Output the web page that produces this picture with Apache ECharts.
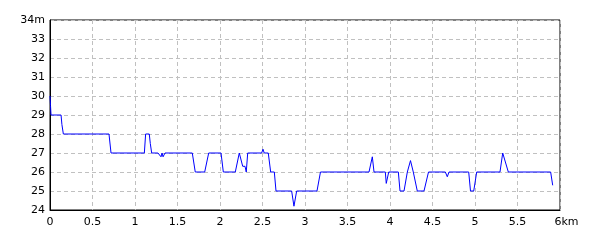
<!DOCTYPE html>
<html><head><meta charset="utf-8">
<script src="https://cdn.jsdelivr.net/npm/echarts@6/dist/echarts.min.js"></script>
<style>html,body{margin:0;padding:0;background:#fff}#c{width:600px;height:240px}</style>
</head><body><div id="c"></div>
<script>
const distanceKm = [0,0.006,0.012,0.13,0.14,0.157,0.694,0.718,1.11,1.125,1.168,1.18,1.196,1.27,1.306,1.318,1.33,1.353,
1.674,1.709,1.82,1.867,2.012,2.039,2.18,2.227,2.267,2.294,2.309,2.326,2.49,2.506,2.52,2.568,2.596,2.639,2.659,2.843,2.87,2.902,
3.141,3.182,3.753,3.792,3.812,3.945,3.956,3.985,4.098,4.118,4.165,4.204,4.241,4.274,4.321,4.4,4.453,4.651,4.674,4.694,4.926,4.947,4.985,5.02,
5.294,5.326,5.345,5.392,5.89,5.914];
const elevationM = [30,29.5,29,29,28.5,28,28,27,27,28,28,27.5,27,27,26.8,27,26.8,27,
27,26,26,27,27,26,26,27,26.3,26.3,26,27,27,27.2,27,27,26,26,25,25,24.2,25,
25,26,26,26.8,26,26,25.4,26,26,25,25,26,26.6,26,25,25,26,26,25.75,26,26,25,25,26,
26,27,27,26,26,25.3];
const xTicks = [0,0.5,1,1.5,2,2.5,3,3.5,4,4.5,5,5.5,6];
const yTicks = [24,25,26,27,28,29,30,31,32,33,34];

const chart = echarts.init(document.getElementById('c'), null, {renderer:'canvas'});
const font = {fontFamily:'DejaVu Sans', fontSize:11, color:'#000'};
chart.setOption({
  animation:false,
  grid:{left:50, top:20, right:40, bottom:30, show:true, borderColor:'#000', borderWidth:1, backgroundColor:'#fff'},
  xAxis:{type:'value', min:xTicks[0], max:xTicks[xTicks.length-1], interval:0.5,
    axisLine:{show:true, lineStyle:{color:'#000'}}, axisTick:{show:false},
    splitLine:{show:true, lineStyle:{color:'#c0c0c0', type:[4,3]}},
    axisLabel:Object.assign({margin:7, formatter:v=> v===6 ? '{u|6km}' : String(v),
      rich:{u:Object.assign({padding:[0,0,0,13]},font)}}, font)},
  yAxis:{type:'value', min:yTicks[0], max:yTicks[yTicks.length-1], interval:1,
    axisLine:{show:true, lineStyle:{color:'#000'}}, axisTick:{show:false},
    splitLine:{show:true, lineStyle:{color:'#c0c0c0', type:[4,3]}},
    axisLabel:Object.assign({margin:5, formatter:v=> v===34 ? '34m' : String(v)}, font)},
  series:[{type:'line', data:distanceKm.map((d,i)=>[d,elevationM[i]]), showSymbol:false, symbol:'none',
    lineStyle:{color:'#0000ff', width:1}, itemStyle:{color:'#0000ff'}}]
});
</script></body></html>
